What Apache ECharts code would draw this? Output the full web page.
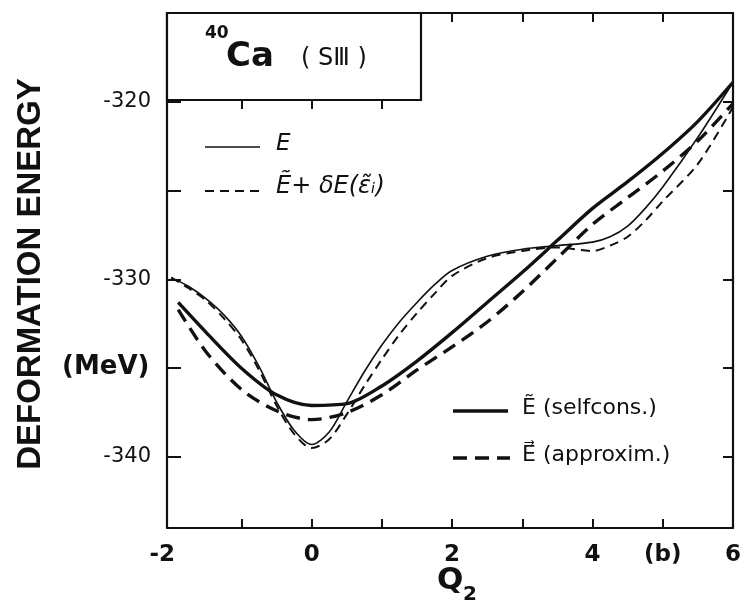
<!DOCTYPE html>
<html>
<head>
<meta charset="utf-8">
<script src="https://cdn.jsdelivr.net/npm/echarts@6/dist/echarts.min.js"></script>
<style>
  html, body { margin: 0; padding: 0; background: #fff; }
  #chart { width: 747px; height: 609px; }
</style>
</head>
<body>
<div id="chart"></div>
<script>
// Deformation energy of 40Ca (Skyrme SIII) versus quadrupole moment Q2 (b)

// Thin curves: full energy E and its approximation E~ + dE(e~i)
const qThin  = [-2.0, -1.75, -1.5, -1.25, -1.0, -0.75, -0.5, -0.25, 0, 0.25, 0.5, 0.75, 1.0, 1.25, 1.5, 1.75, 2.0, 2.5, 3.0, 3.5, 4.0, 4.25, 4.5, 4.75, 5.0, 5.5, 6.0];
const eTotal = [-329.9, -330.4, -331.1, -332.0, -333.2, -334.9, -336.9, -338.5, -339.3, -338.6, -336.9, -335.2, -333.7, -332.4, -331.3, -330.3, -329.5, -328.7, -328.3, -328.1, -327.9, -327.6, -327.0, -326.0, -324.8, -322.0, -318.9];
const eShell = [-329.9, -330.5, -331.2, -332.2, -333.4, -335.1, -337.1, -338.7, -339.5, -339.0, -337.6, -336.0, -334.5, -333.1, -331.9, -330.8, -329.8, -328.8, -328.4, -328.2, -328.4, -328.1, -327.6, -326.7, -325.6, -323.5, -320.3];

// Thick curves: smooth energy, self-consistent and approximated
const qSmooth = [-1.9, -1.5, -1.0, -0.5, 0, 0.5, 1.0, 1.5, 2.0, 2.5, 3.0, 3.5, 4.0, 4.5, 5.0, 5.5, 6.0];
const eSelf   = [-331.3, -333.0, -335.0, -336.5, -337.1, -337.0, -336.0, -334.6, -333.0, -331.3, -329.6, -327.8, -326.0, -324.5, -322.9, -321.1, -318.9];
const eApprox = [-331.7, -334.1, -336.2, -337.4, -337.9, -337.5, -336.5, -335.1, -333.8, -332.4, -330.7, -328.8, -326.9, -325.4, -323.9, -322.2, -320.1];

// Axis ticks and labels
const xTicks = [-1, 0, 1, 2, 3, 4, 5];
const xLabels = [-2, 0, 2, 4, 5, 6];
const yTicks = [-340, -335, -330, -325, -320];
const yLabels = [-340, -330, -320];

const INK = '#111';
const FONT = 'DejaVu Sans';

const pairs = (xs, ys) => xs.map((x, i) => [x, ys[i]]);

const chart = echarts.init(document.getElementById('chart'), null, { renderer: 'canvas' });

const axisLine = { show: true, onZero: false, lineStyle: { color: INK, width: 2.2 } };

const option = {
  backgroundColor: '#fff',
  animation: false,
  grid: { left: 167, right: 14, top: 13, bottom: 81, containLabel: false },
  xAxis: [
    {
      type: 'value', position: 'bottom', min: -2.06, max: 6,
      axisLine,
      axisTick: { inside: true, length: 9, customValues: xTicks, lineStyle: { color: INK, width: 2 } },
      axisLabel: {
        customValues: xLabels, color: INK, fontFamily: FONT, fontSize: 23, fontWeight: 'bold', margin: 16,
        formatter: v => (v === 5 ? '(b)' : v === -2 ? '{lead|-2}' : String(v)),
        rich: { lead: { color: INK, fontFamily: FONT, fontSize: 23, fontWeight: 'bold', padding: [0, 18, 0, 0] } }
      },
      splitLine: { show: false }
    },
    {
      type: 'value', position: 'top', min: -2.06, max: 6,
      axisLine,
      axisTick: { inside: true, length: 9, customValues: [2, 3, 4, 5], lineStyle: { color: INK, width: 2 } },
      axisLabel: { show: false }, splitLine: { show: false }
    },
    {
      type: 'value', position: 'top', offset: -87, min: -2.06, max: 6,
      axisLine: { show: false, onZero: false },
      axisTick: { inside: true, length: 9, customValues: [-1, 0, 1], lineStyle: { color: INK, width: 2 } },
      axisLabel: { show: false }, splitLine: { show: false }
    }
  ],
  yAxis: [
    {
      type: 'value', position: 'left', min: -344, max: -315,
      axisLine,
      axisTick: { show: true, inside: true, length: 14, customValues: yTicks, lineStyle: { color: INK, width: 2 } },
      axisLabel: { customValues: yLabels, color: INK, fontFamily: FONT, fontSize: 21, margin: 16 },
      splitLine: { show: false }
    },
    {
      type: 'value', position: 'right', min: -344, max: -315,
      axisLine,
      axisTick: { show: true, inside: true, length: 10, customValues: yTicks, lineStyle: { color: INK, width: 2 } },
      axisLabel: { show: false }, splitLine: { show: false }
    }
  ],
  series: [
    {
      name: 'E', type: 'line', smooth: 0.3, symbol: 'none', data: pairs(qThin, eTotal),
      lineStyle: { color: INK, width: 1.6 }
    },
    {
      name: 'E~ + dE', type: 'line', smooth: 0.3, symbol: 'none', data: pairs(qThin, eShell),
      lineStyle: { color: INK, width: 2, type: [9, 6] }
    },
    {
      name: 'E~ selfcons', type: 'line', smooth: 0.3, symbol: 'none', data: pairs(qSmooth, eSelf),
      lineStyle: { color: INK, width: 3.4 }
    },
    {
      name: 'E approxim', type: 'line', smooth: 0.3, symbol: 'none', data: pairs(qSmooth, eApprox),
      lineStyle: { color: INK, width: 3.4, type: [14, 8] }
    }
  ],
  graphic: [
    // nucleus / interaction box
    { type: 'rect', z: 10, shape: { x: 167, y: 13, width: 254, height: 87 },
      style: { fill: '#fff', stroke: INK, lineWidth: 2.2 } },
    { type: 'text', z: 11, left: 205, top: 25,
      style: { text: '40', fill: INK, font: 'bold 17px "DejaVu Sans"' } },
    { type: 'text', z: 11, left: 226, top: 40,
      style: { text: 'Ca', fill: INK, font: 'bold 34px "DejaVu Sans"' } },
    { type: 'text', z: 11, left: 301, top: 47,
      style: { text: '( S\u2162 )', fill: INK, font: '24px "DejaVu Sans"' } },

    // upper legend
    { type: 'line', z: 11, shape: { x1: 205, y1: 147, x2: 260, y2: 147 }, style: { stroke: INK, lineWidth: 1.6 } },
    { type: 'text', z: 11, left: 276, top: 133,
      style: { text: 'E', fill: INK, font: 'italic 23px "DejaVu Sans"' } },
    { type: 'line', z: 11, shape: { x1: 205, y1: 191, x2: 260, y2: 191 }, style: { stroke: INK, lineWidth: 2, lineDash: [9, 6] } },
    { type: 'text', z: 11, left: 276, top: 175,
      style: { text: '\u1EBC+ \u03B4E(\u03B5\u0303\u1D62)', fill: INK, font: 'italic 24px "DejaVu Sans"' } },

    // lower legend
    { type: 'line', z: 11, shape: { x1: 453, y1: 411, x2: 508, y2: 411 }, style: { stroke: INK, lineWidth: 3.4 } },
    { type: 'text', z: 11, left: 522, top: 397,
      style: { text: '\u1EBC (selfcons.)', fill: INK, font: '22px "DejaVu Sans"' } },
    { type: 'line', z: 11, shape: { x1: 453, y1: 458, x2: 510, y2: 458 }, style: { stroke: INK, lineWidth: 3.4, lineDash: [14, 8] } },
    { type: 'text', z: 11, left: 522, top: 444,
      style: { text: 'E\u20D7 (approxim.)', fill: INK, font: '22px "DejaVu Sans"' } },

    // axis titles
    { type: 'text', z: 11, x: 31, y: 274, rotation: Math.PI / 2,
      style: { text: 'DEFORMATION ENERGY', fill: INK, font: 'bold 33px "Liberation Sans"', align: 'center', verticalAlign: 'middle' } },
    { type: 'text', z: 11, left: 62, top: 354,
      style: { text: '(MeV)', fill: INK, font: 'bold 26px "DejaVu Sans"' } },
    { type: 'text', z: 11, left: 437, top: 565,
      style: { text: 'Q', fill: INK, font: 'bold 31px "DejaVu Sans"' } },
    { type: 'text', z: 11, left: 463, top: 585,
      style: { text: '2', fill: INK, font: 'bold 20px "DejaVu Sans"' } }
  ]
};

chart.setOption(option);
</script>
</body>
</html>
